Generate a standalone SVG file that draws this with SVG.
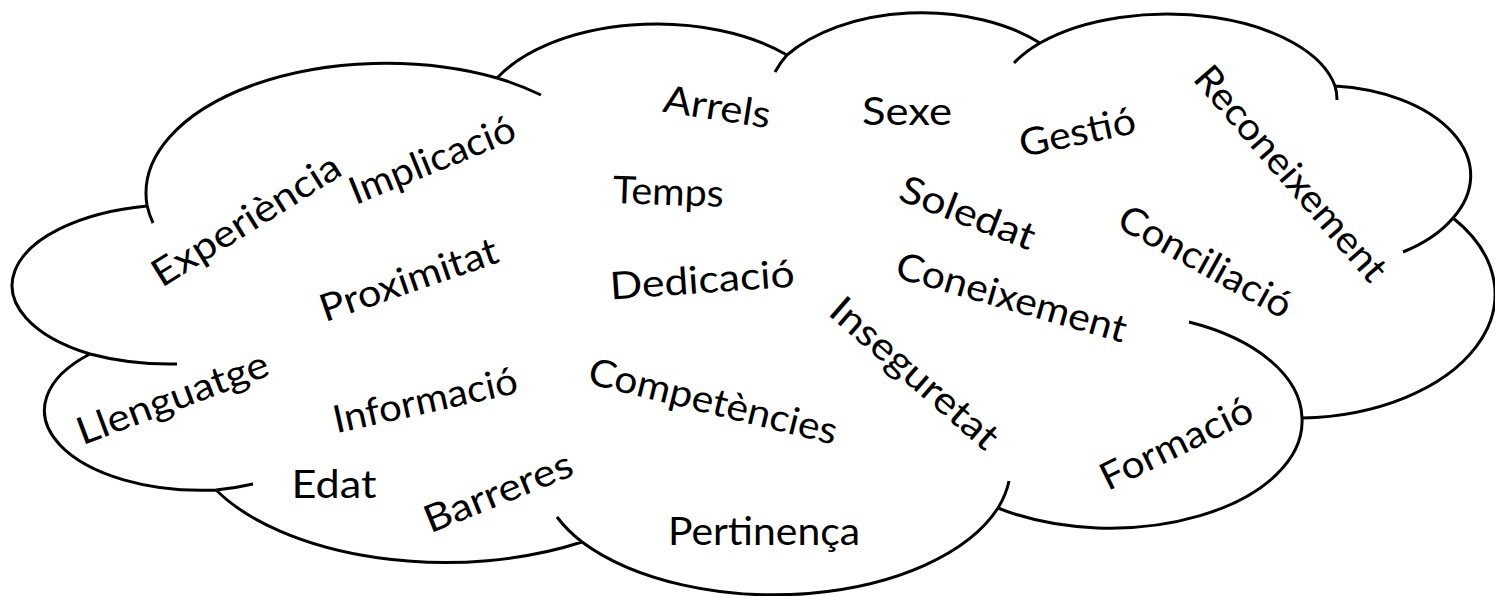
<svg xmlns="http://www.w3.org/2000/svg" width="1495" height="596" viewBox="0 0 1495 596">
<style>
.cloud{fill:none;stroke:#000;stroke-width:3}
.w{font-family:Lato,"Liberation Sans",sans-serif;font-size:38px;fill:#000;text-anchor:middle}
</style>
<rect width="1495" height="596" fill="#fff"/>
<g id="cloud">
<path class="cloud" d="M177,364 A167,81 0 0,1 90,354 A167,81 0 0,1 147,206
M153,223 A240,130 0 0,1 147,205 A240,130 0 0,1 497,78 A240,130 0 0,1 541,95
M497,78 A180,100 0 0,1 787,55
M775,72 A165,100 0 0,1 787,55 A165,100 0 0,1 1040,43
M1014,63 A171,88 0 0,1 1040,43 A171,88 0 0,1 1335,86 A171,88 0 0,1 1337,100
M1335,86 A150,90 0 0,1 1453,218 A150,90 0 0,1 1403,252
M1453,218 A200,124 0 0,1 1302,418
M1189,322 A192,107 0 0,1 1302,418 A192,107 0 0,1 998,508
M1009,481 A238,130 0 0,1 998,508 A238,130 0 0,1 582,542 A238,130 0 0,1 557,517
M582,542 A260,137 0 0,1 216,490
M253,484 A157,80 0 0,1 216,490 A157,80 0 0,1 90,354"/>
</g>
<g id="words">
<g id="w-experiencia"><text class="w" x="253" y="231" transform="rotate(-32 253 231)" textLength="215" lengthAdjust="spacingAndGlyphs">Experiència</text></g>
<g id="w-implicacio"><text class="w" x="437" y="172" transform="rotate(-22 437 172)" textLength="176" lengthAdjust="spacingAndGlyphs">Implicació</text></g>
<g id="w-arrels"><text class="w" x="715" y="120" transform="rotate(9 715 120)" textLength="108" lengthAdjust="spacingAndGlyphs">Arrels</text></g>
<g id="w-sexe"><text class="w" x="907" y="125" textLength="90" lengthAdjust="spacingAndGlyphs">Sexe</text></g>
<g id="w-gestio"><text class="w" x="1080" y="145" transform="rotate(-12 1080 145)" textLength="118" lengthAdjust="spacingAndGlyphs">Gestió</text></g>
<g id="w-reconeixement"><text class="w" x="1281" y="182" transform="rotate(49 1281 182)" textLength="272" lengthAdjust="spacingAndGlyphs">Reconeixement</text></g>
<g id="w-temps"><text class="w" x="668" y="205" transform="rotate(2 668 205)" textLength="111" lengthAdjust="spacingAndGlyphs">Temps</text></g>
<g id="w-soledat"><text class="w" x="963" y="225" transform="rotate(21 963 225)" textLength="142" lengthAdjust="spacingAndGlyphs">Soledat</text></g>
<g id="w-conciliacio"><text class="w" x="1199" y="273" transform="rotate(29 1199 273)" textLength="192" lengthAdjust="spacingAndGlyphs">Conciliació</text></g>
<g id="w-coneixement"><text class="w" x="1008" y="310" transform="rotate(16 1008 310)" textLength="238" lengthAdjust="spacingAndGlyphs">Coneixement</text></g>
<g id="w-dedicacio"><text class="w" x="703" y="293" transform="rotate(-4 703 293)" textLength="185" lengthAdjust="spacingAndGlyphs">Dedicació</text></g>
<g id="w-proximitat"><text class="w" x="413" y="292" transform="rotate(-19 413 292)" textLength="186" lengthAdjust="spacingAndGlyphs">Proximitat</text></g>
<g id="w-llenguatge"><text class="w" x="177" y="410" transform="rotate(-20.5 177 410)" textLength="202" lengthAdjust="spacingAndGlyphs">Llenguatge</text></g>
<g id="w-informacio"><text class="w" x="428" y="413" transform="rotate(-12.5 428 413)" textLength="188" lengthAdjust="spacingAndGlyphs">Informació</text></g>
<g id="w-competencies"><text class="w" x="710" y="414" transform="rotate(14 710 414)" textLength="255" lengthAdjust="spacingAndGlyphs">Competències</text></g>
<g id="w-inseguretat"><text class="w" x="906" y="383" transform="rotate(41 906 383)" textLength="210" lengthAdjust="spacingAndGlyphs">Inseguretat</text></g>
<g id="w-formacio"><text class="w" x="1182" y="455" transform="rotate(-26 1182 455)" textLength="165" lengthAdjust="spacingAndGlyphs">Formació</text></g>
<g id="w-edat"><text class="w" x="334" y="498" textLength="85" lengthAdjust="spacingAndGlyphs">Edat</text></g>
<g id="w-barreres"><text class="w" x="503" y="504" transform="rotate(-22 503 504)" textLength="157" lengthAdjust="spacingAndGlyphs">Barreres</text></g>
<g id="w-pertinenca"><text class="w" x="764" y="545" textLength="192" lengthAdjust="spacingAndGlyphs">Pertinença</text></g>
</g>
</svg>
